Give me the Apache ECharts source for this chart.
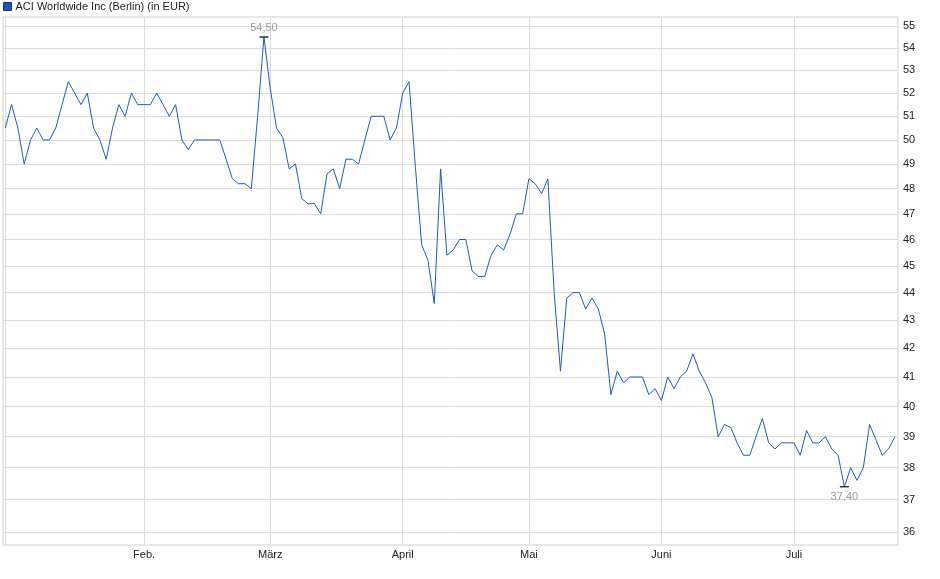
<!DOCTYPE html>
<html>
<head>
<meta charset="utf-8">
<script src="https://cdn.jsdelivr.net/npm/echarts@6/dist/echarts.min.js"></script>
<style>
html,body{margin:0;padding:0;background:#fff;}
#chart{width:940px;height:579px;}
</style>
</head>
<body>
<div id="chart"></div>
<script>
// Trading days 2025 (Berlin)
const dates = [
 '2025-01-02','2025-01-03','2025-01-06','2025-01-07','2025-01-08','2025-01-09','2025-01-10','2025-01-13','2025-01-14','2025-01-15','2025-01-16','2025-01-17','2025-01-20','2025-01-21','2025-01-22','2025-01-23','2025-01-24','2025-01-27','2025-01-28','2025-01-29','2025-01-30','2025-01-31',
 '2025-02-03','2025-02-04','2025-02-05','2025-02-06','2025-02-07','2025-02-10','2025-02-11','2025-02-12','2025-02-13','2025-02-14','2025-02-17','2025-02-18','2025-02-19','2025-02-20','2025-02-21','2025-02-24','2025-02-25','2025-02-26','2025-02-27','2025-02-28',
 '2025-03-03','2025-03-04','2025-03-05','2025-03-06','2025-03-07','2025-03-10','2025-03-11','2025-03-12','2025-03-13','2025-03-14','2025-03-17','2025-03-18','2025-03-19','2025-03-20','2025-03-21','2025-03-24','2025-03-25','2025-03-26','2025-03-27','2025-03-28','2025-03-31',
 '2025-04-01','2025-04-02','2025-04-03','2025-04-04','2025-04-07','2025-04-08','2025-04-09','2025-04-10','2025-04-11','2025-04-14','2025-04-15','2025-04-16','2025-04-17','2025-04-22','2025-04-23','2025-04-24','2025-04-25','2025-04-28','2025-04-29','2025-04-30',
 '2025-05-02','2025-05-05','2025-05-06','2025-05-07','2025-05-08','2025-05-09','2025-05-12','2025-05-13','2025-05-14','2025-05-15','2025-05-16','2025-05-19','2025-05-20','2025-05-21','2025-05-22','2025-05-23','2025-05-26','2025-05-27','2025-05-28','2025-05-29','2025-05-30',
 '2025-06-02','2025-06-03','2025-06-04','2025-06-05','2025-06-06','2025-06-09','2025-06-10','2025-06-11','2025-06-12','2025-06-13','2025-06-16','2025-06-17','2025-06-18','2025-06-19','2025-06-20','2025-06-23','2025-06-24','2025-06-25','2025-06-26','2025-06-27','2025-06-30',
 '2025-07-01','2025-07-02','2025-07-03','2025-07-04','2025-07-07','2025-07-08','2025-07-09','2025-07-10','2025-07-11','2025-07-14','2025-07-15','2025-07-16','2025-07-17','2025-07-18','2025-07-21','2025-07-22','2025-07-23'
];

// Closing prices in EUR
const prices = [
 50.5,51.5,50.5,49.0,50.0,50.5,50.0,50.0,50.5,51.5,52.5,52.0,51.5,52.0,50.5,50.0,49.2,50.5,51.5,51.0,52.0,51.5,
 51.5,51.5,52.0,51.5,51.0,51.5,50.0,49.6,50.0,50.0,50.0,50.0,50.0,49.2,48.4,48.2,48.2,48.0,51.0,54.5,
 52.2,50.5,50.1,48.8,49.0,47.6,47.4,47.4,47.0,48.6,48.8,48.0,49.2,49.2,49.0,50.0,51.0,51.0,51.0,50.0,50.5,
 52.0,52.5,48.9,45.8,45.2,43.6,48.8,45.4,45.6,46.0,46.0,44.8,44.6,44.6,45.4,45.8,45.6,46.2,47.0,47.0,
 48.4,48.2,47.8,48.4,44.0,41.2,43.8,44.0,44.0,43.4,43.8,43.4,42.5,40.4,41.2,40.8,41.0,41.0,41.0,40.4,40.6,
 40.2,41.0,40.6,41.0,41.2,41.8,41.2,40.8,40.3,39.0,39.4,39.3,38.8,38.4,38.4,39.0,39.6,38.8,38.6,38.8,38.8,
 38.8,38.4,39.2,38.8,38.8,39.0,38.6,38.4,37.4,38.0,37.6,38.0,39.4,38.9,38.4,38.6,39.0
];

const monthNames = ['Jan.','Feb.','März','April','Mai','Juni','Juli','Aug.','Sept.','Okt.','Nov.','Dez.'];
const yTicks = [36,37,38,39,40,41,42,43,44,45,46,47,48,49,50,51,52,53,54,55];
const seriesName = 'ACI Worldwide Inc (Berlin) (in EUR)';

// month-start indices
const monthStarts = [];
dates.forEach((d, i) => {
  if (i === 0 || d.slice(5, 7) !== dates[i - 1].slice(5, 7)) monthStarts.push(i);
});
const labelStarts = monthStarts.filter(i => i > 0);

const chart = echarts.init(document.getElementById('chart'));
const fmt = v => v.toFixed(2).replace('.', ',');
const gridColor = '#dcdcdc';

chart.setOption({
  animation: false,
  backgroundColor: '#fff',
  textStyle: { fontFamily: 'Liberation Sans, Arial, sans-serif' },
  legend: {
    left: 3, top: 1, padding: 0,
    icon: 'rect', itemWidth: 8, itemHeight: 8,
    textStyle: { fontSize: 11, color: '#222', padding: [0, 0, 0, -1] },
    data: [{ name: seriesName, itemStyle: { color: '#1d56b8', borderColor: '#16357a', borderWidth: 1 } }]
  },
  grid: {
    left: 3, right: 42, top: 17, bottom: 34,
    show: true, borderColor: '#cfcfcf', borderWidth: 1
  },
  xAxis: {
    type: 'value',
    min: -0.36, max: 141.5,
    axisLine: { show: false },
    axisTick: {
      show: true, inside: true, length: 528,
      customValues: monthStarts,
      lineStyle: { color: gridColor, width: 1 }
    },
    splitLine: { show: false },
    axisLabel: {
      customValues: labelStarts,
      margin: 4,
      fontSize: 11, color: '#222',
      formatter: v => monthNames[parseInt(dates[Math.round(v)].slice(5, 7), 10) - 1]
    }
  },
  yAxis: {
    type: 'log', logBase: 10,
    position: 'right',
    min: 35.62, max: 55.42,
    axisLine: { show: false },
    axisTick: { show: false },
    splitLine: { show: false },
    axisLabel: {
      customValues: yTicks,
      margin: 5,
      fontSize: 11, color: '#222',
      formatter: v => String(Math.round(v))
    }
  },
  series: [{
    name: seriesName,
    type: 'line',
    z: 3,
    data: prices.map((p, i) => [i, p]),
    showSymbol: false,
    symbol: 'none',
    lineStyle: { color: '#1d5cc2', width: 1 },
    itemStyle: { color: '#1d5cc2' },
    markLine: {
      silent: true,
      z: 1,
      symbol: ['none', 'none'],
      label: { show: false },
      emphasis: { disabled: true },
      lineStyle: { color: gridColor, type: 'solid', width: 1 },
      data: yTicks.map(v => ({ yAxis: v }))
    },
    markPoint: {
      symbol: 'rect',
      symbolSize: [9, 1.2],
      itemStyle: { color: '#000' },
      label: { show: true, fontSize: 11, color: '#9a9a9a', formatter: p => fmt(p.value) },
      data: [
        { type: 'max', valueDim: 'y', label: { position: 'top', distance: 3 } },
        { type: 'min', valueDim: 'y', label: { position: 'bottom', distance: 4 } }
      ]
    }
  }]
});
</script>
</body>
</html>
